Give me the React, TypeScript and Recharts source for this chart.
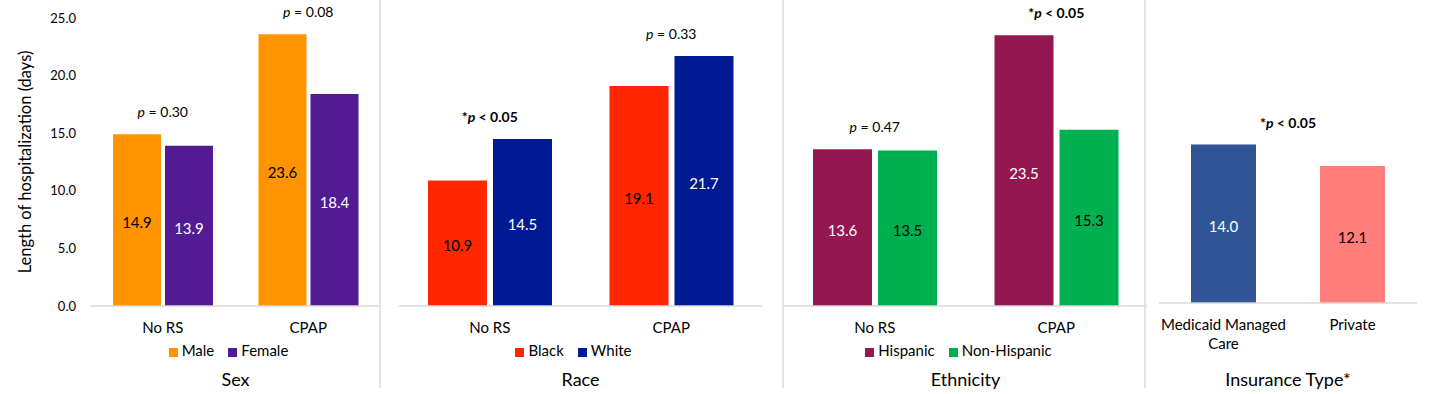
import { BarChart, Bar, XAxis, YAxis, Legend, LabelList, Cell, ReferenceDot, ReferenceLine, Text } from 'recharts';

const FONT = 'Lato, "Open Sans", sans-serif';
const AXIS_GREY = '#d9d9d9';
const CHART_HEIGHT = 394;

// ---------------------------------------------------------------------------
// Data
// ---------------------------------------------------------------------------

const yTicks = [0, 5, 10, 15, 20, 25];

const sexCategories = ['No RS', 'CPAP'];
const maleValues = [14.9, 23.6];
const femaleValues = [13.9, 18.4];
const sexPLabels = ['p = 0.30', 'p = 0.08'];

const raceCategories = ['No RS', 'CPAP'];
const blackValues = [10.9, 19.1];
const whiteValues = [14.5, 21.7];
const racePLabels = ['*p < 0.05', 'p = 0.33'];

const ethnicityCategories = ['No RS', 'CPAP'];
const hispanicValues = [13.6, 23.5];
const nonHispanicValues = [13.5, 15.3];
const ethnicityPLabels = ['p = 0.47', '*p < 0.05'];

const insuranceCategories = ['Medicaid Managed Care', 'Private'];
const insuranceValues = [14.0, 12.1];
const insurancePLabels = ['*p < 0.05'];

// ---------------------------------------------------------------------------
// Types
// ---------------------------------------------------------------------------

type Series = {
  name: string;
  values: number[];
  colors: string[];
  labelColors: string[];
};

type PanelProps = {
  left: number;
  width: number;
  plotLeft: number;
  plotRight: number;
  plotTop: number;
  plotBottom: number;
  categories: string[];
  series: Series[];
  pLabels: string[];
  title: string;
  barSize: number;
  barGap: number;
  showYAxis?: boolean;
};

// ---------------------------------------------------------------------------
// Label helpers
// ---------------------------------------------------------------------------

/** "p = 0.30" / "*p < 0.05" with an italic p; starred ones are bold. */
function renderPLabel(text: string) {
  return (props: any) => {
    const vb = props.viewBox || {};
    const cx = vb.x + (vb.width || 0) / 2;
    const bold = text.startsWith('*');
    const i = text.indexOf('p');
    return (
      <text
        x={cx}
        y={vb.y - 17}
        textAnchor="middle"
        fontFamily={FONT}
        fontSize={14}
        fontWeight={bold ? 700 : 400}
        fill="#000"
      >
        <tspan>{text.slice(0, i)}</tspan>
        <tspan fontStyle="italic">p</tspan>
        <tspan>{text.slice(i + 1)}</tspan>
      </text>
    );
  };
}

function valueLabel(colors: string[]) {
  return (p: any) => {
    const idx = typeof p.index === 'number' ? p.index : 0;
    return (
      <text
        x={p.x + p.width / 2}
        y={p.y + p.height / 2 + 2}
        textAnchor="middle"
        dominantBaseline="central"
        fontFamily={FONT}
        fontSize={15}
        fill={colors[idx] ?? colors[0]}
      >
        {Number(p.value).toFixed(1)}
      </text>
    );
  };
}

function CategoryTick(props: any) {
  return (
    <Text
      x={props.x}
      y={props.y}
      width={140}
      textAnchor="middle"
      verticalAnchor="start"
      lineHeight={19}
      fontFamily={FONT}
      fontSize={15}
      fill="#000"
    >
      {props.payload.value}
    </Text>
  );
}

// ---------------------------------------------------------------------------
// Panel
// ---------------------------------------------------------------------------

function Panel({
  left,
  width,
  plotLeft,
  plotRight,
  plotTop,
  plotBottom,
  categories,
  series,
  pLabels,
  title,
  barSize,
  barGap,
  showYAxis,
}: PanelProps) {
  const data = categories.map((category, i) => {
    const row: Record<string, string | number> = { category };
    series.forEach((s, k) => {
      row[`s${k}`] = s.values[i];
    });
    return row;
  });

  const marginLeft = showYAxis ? 0 : plotLeft - left;
  const marginRight = left + width - plotRight;
  const groupMax = categories.map((_, i) => Math.max(...series.map((s) => s.values[i])));
  const allMax = Math.max(...groupMax);

  return (
    <div style={{ position: 'absolute', left, top: 0 }}>
      <BarChart
        width={width}
        height={CHART_HEIGHT}
        data={data}
        margin={{ top: plotTop, right: marginRight, bottom: 0, left: marginLeft }}
        barSize={barSize}
        barGap={barGap}
      >
        <XAxis
          dataKey="category"
          height={CHART_HEIGHT - plotBottom}
          tickLine={false}
          tickMargin={10}
          axisLine={{ stroke: AXIS_GREY, strokeWidth: 1.5 }}
          tick={<CategoryTick />}
          interval={0}
          label={{
            value: title,
            position: 'insideBottom',
            offset: 8,
            fontSize: 18,
            fill: '#000',
            fontFamily: FONT,
          }}
        />
        <YAxis
          domain={[0, 25]}
          ticks={yTicks}
          hide={!showYAxis}
          width={showYAxis ? plotLeft - left : 0}
          axisLine={false}
          tickLine={false}
          tickMargin={8}
          tickFormatter={(v: number) => v.toFixed(1)}
          tick={{ fontSize: 13, fill: '#000', fontFamily: FONT }}
          label={
            showYAxis
              ? (props: any) => {
                  const vb = props.viewBox || {};
                  const cx = 25;
                  const cy = vb.y + vb.height / 2;
                  return (
                    <text
                      x={cx}
                      y={cy}
                      transform={`rotate(-90, ${cx}, ${cy})`}
                      textAnchor="middle"
                      dominantBaseline="central"
                      fontFamily={FONT}
                      fontSize={16.5}
                      fill="#000"
                    >
                      Length of hospitalization (days)
                    </text>
                  );
                }
              : undefined
          }
        />
        {series.length > 1 && (
          <Legend
            verticalAlign="middle"
            align="center"
            iconType="square"
            iconSize={9}
            itemSorter="dataKey"
            formatter={(value: string) => (
              <span style={{ color: '#000', marginRight: 4 }}>{value}</span>
            )}
            wrapperStyle={{
              top: 340,
              left: plotLeft - left,
              width: plotRight - plotLeft,
              fontFamily: FONT,
              fontSize: 15,
              lineHeight: '20px',
            }}
          />
        )}
        {series.map((s, k) => (
          <Bar key={s.name} dataKey={`s${k}`} name={s.name} fill={s.colors[0]} isAnimationActive={false}>
            {s.colors.length > 1 &&
              categories.map((c, i) => <Cell key={c} fill={s.colors[i]} />)}
            <LabelList dataKey={`s${k}`} content={valueLabel(s.labelColors)} />
          </Bar>
        ))}
        {pLabels.length === categories.length
          ? categories.map((c, i) => (
              <ReferenceDot
                key={c}
                x={c}
                y={groupMax[i]}
                r={0}
                fill="none"
                stroke="none"
                label={renderPLabel(pLabels[i])}
              />
            ))
          : pLabels.map((t) => (
              <ReferenceLine key={t} y={allMax} stroke="none" label={renderPLabel(t)} />
            ))}
      </BarChart>
    </div>
  );
}

// ---------------------------------------------------------------------------
// App
// ---------------------------------------------------------------------------

const separators = [379, 782, 1144];

export default function App() {
  return (
    <div
      style={{
        position: 'absolute',
        left: 0,
        top: 0,
        width: 1430,
        height: 394,
        background: '#fff',
        overflow: 'hidden',
        fontFamily: FONT,
      }}
    >
      <Panel
        left={0}
        width={385}
        plotLeft={90}
        plotRight={381}
        plotTop={18}
        plotBottom={306}
        categories={sexCategories}
        series={[
          { name: 'Male', values: maleValues, colors: ['#FF9300'], labelColors: ['#000'] },
          { name: 'Female', values: femaleValues, colors: ['#531B93'], labelColors: ['#fff'] },
        ]}
        pLabels={sexPLabels}
        title="Sex"
        barSize={48}
        barGap={4}
        showYAxis
      />
      <Panel
        left={380}
        width={390}
        plotLeft={399}
        plotRight={762}
        plotTop={18}
        plotBottom={306}
        categories={raceCategories}
        series={[
          { name: 'Black', values: blackValues, colors: ['#FF2600'], labelColors: ['#000'] },
          { name: 'White', values: whiteValues, colors: ['#011993'], labelColors: ['#fff'] },
        ]}
        pLabels={racePLabels}
        title="Race"
        barSize={59}
        barGap={6}
      />
      <Panel
        left={780}
        width={370}
        plotLeft={784}
        plotRight={1147}
        plotTop={18}
        plotBottom={306}
        categories={ethnicityCategories}
        series={[
          { name: 'Hispanic', values: hispanicValues, colors: ['#941751'], labelColors: ['#fff'] },
          { name: 'Non-Hispanic', values: nonHispanicValues, colors: ['#00B050'], labelColors: ['#000'] },
        ]}
        pLabels={ethnicityPLabels}
        title="Ethnicity"
        barSize={59}
        barGap={6}
      />
      <Panel
        left={1148}
        width={282}
        plotLeft={1159}
        plotRight={1417}
        plotTop={20}
        plotBottom={303}
        categories={insuranceCategories}
        series={[
          {
            name: 'Insurance',
            values: insuranceValues,
            colors: ['#2F5597', '#FF7E79'],
            labelColors: ['#fff', '#000'],
          },
        ]}
        pLabels={insurancePLabels}
        title="Insurance Type*"
        barSize={65}
        barGap={0}
      />
      {separators.map((x) => (
        <div
          key={x}
          style={{
            position: 'absolute',
            left: x,
            top: 0,
            width: 2,
            height: 388,
            background: '#e3e3e3',
          }}
        />
      ))}
    </div>
  );
}
